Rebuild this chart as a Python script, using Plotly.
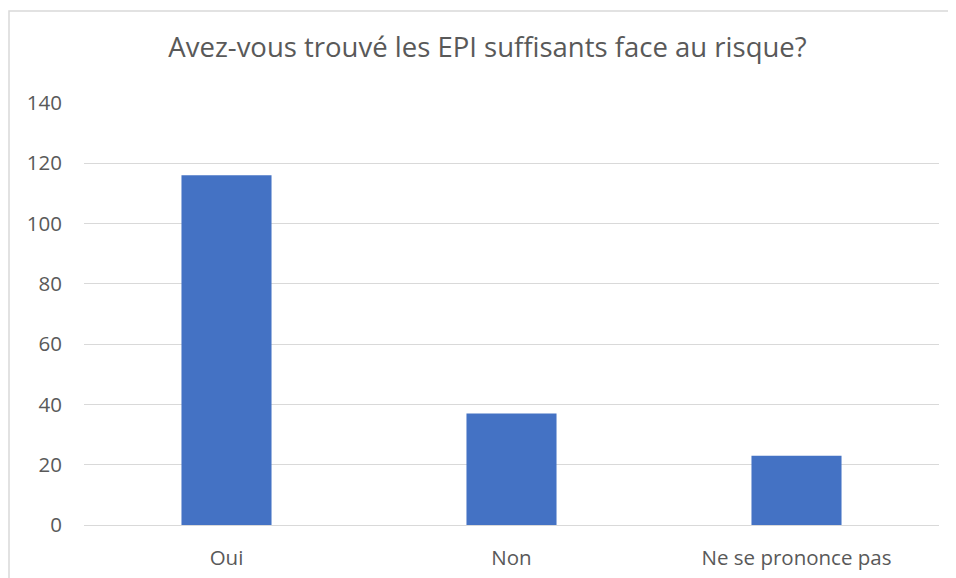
import plotly.graph_objects as go

categories = ["Oui", "Non", "Ne se prononce pas"]
values = [116, 37, 23]
y_ticks = [0, 20, 40, 60, 80, 100, 120, 140]

# page has an 8px body margin; figure sized to fill the rest of the window
OFF = 8
W, H = 956 - OFF, 578 - OFF
L, T = 84 - OFF, 103 - OFF
R = W - (939 - OFF)
B = H - (525 - OFF)
pw, ph = W - L - R, H - T - B

fig = go.Figure(go.Bar(x=categories, y=values, marker_color="#4472C4",
                       marker_line_width=0, hoverinfo="x+y"))

fig.update_layout(
    width=W, height=H,
    margin=dict(l=L, r=R, t=T, b=B, autoexpand=False),
    paper_bgcolor="white", plot_bgcolor="white",
    bargap=0.684,
    showlegend=False,
    font=dict(family="Open Sans, Liberation Sans, Arial, sans-serif", color="#595959"),
    title=dict(text="Avez-vous trouvé les EPI suffisants face au risque?",
               x=(487.5 - OFF) / W, xanchor="center", y=1 - (47 - OFF) / H, yanchor="middle",
               font=dict(size=27.5, color="#595959")),
    xaxis=dict(showgrid=False, showline=True, linecolor="#d9d9d9", linewidth=1,
               tickfont=dict(size=20.5, color="#595959"), ticks="",
               ticklabelstandoff=14, automargin=False),
    yaxis=dict(range=[0, 140], tickvals=y_ticks, showgrid=True, gridcolor="#d9d9d9",
               gridwidth=1, zeroline=False, showline=False,
               tickfont=dict(size=20.5, color="#595959"), ticks="",
               ticklabelstandoff=21, automargin=False),
    shapes=[dict(type="rect", xref="paper", yref="paper",
                 x0=(1 - L) / pw, x1=(W + 20 - L) / pw,
                 y0=-(H) / ph, y1=(525 - 11) / ph,
                 line=dict(color="#d9d9d9", width=1.5), fillcolor="rgba(0,0,0,0)",
                 layer="below")],
)

fig.write_html("out.html")
